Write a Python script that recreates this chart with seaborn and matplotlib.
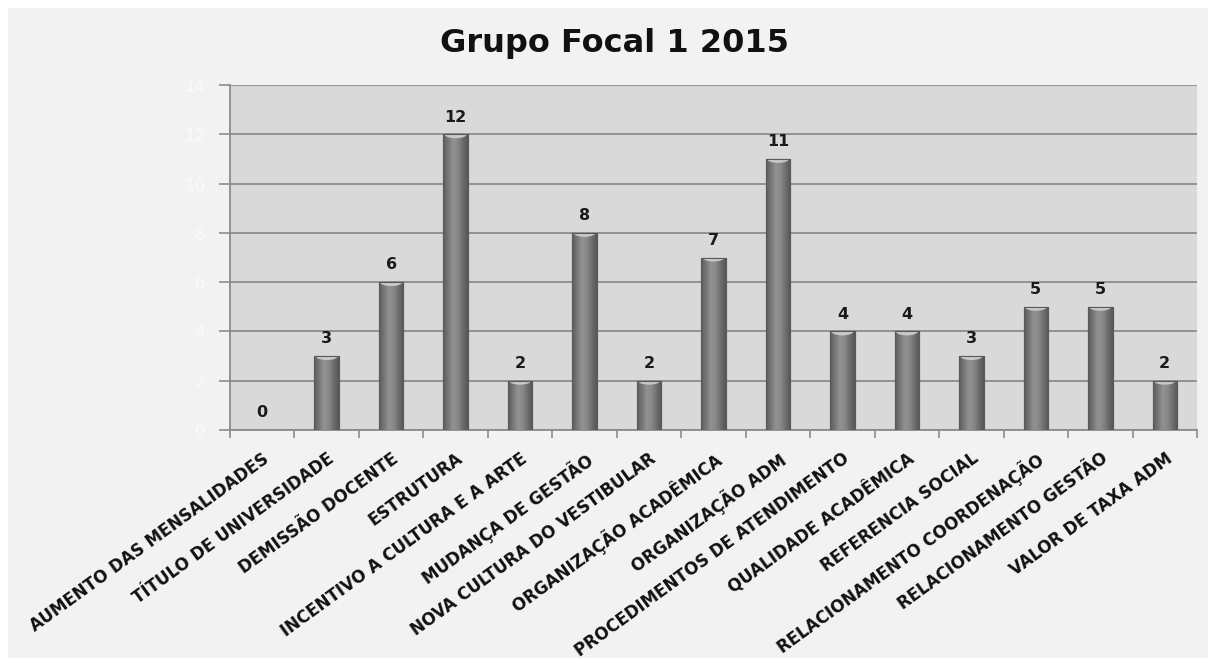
import numpy as np
import pandas as pd
import matplotlib
matplotlib.use("Agg")
import matplotlib.pyplot as plt
from matplotlib.colors import LinearSegmentedColormap
from matplotlib.patches import Rectangle, Ellipse
import seaborn as sns

categorias = [
    "AUMENTO DAS MENSALIDADES",
    "TÍTULO DE UNIVERSIDADE",
    "DEMISSÃO DOCENTE",
    "ESTRUTURA",
    "INCENTIVO A CULTURA E A ARTE",
    "MUDANÇA DE GESTÃO",
    "NOVA CULTURA DO VESTIBULAR",
    "ORGANIZAÇÃO ACADÊMICA",
    "ORGANIZAÇÃO ADM",
    "PROCEDIMENTOS DE ATENDIMENTO",
    "QUALIDADE ACADÊMICA",
    "REFERENCIA SOCIAL",
    "RELACIONAMENTO COORDENAÇÃO",
    "RELACIONAMENTO GESTÃO",
    "VALOR DE TAXA ADM",
]
valores = [0, 3, 6, 12, 2, 8, 2, 7, 11, 4, 4, 3, 5, 5, 2]
y_ticks = [0, 2, 4, 6, 8, 10, 12, 14]
titulo = "Grupo Focal 1 2015"

df = pd.DataFrame({"categoria": categorias, "valor": valores})

sns.set_theme(style="white")
plt.rcParams["font.family"] = ["DejaVu Sans"]

fig = plt.figure(figsize=(12.08, 6.58), dpi=100, facecolor="white")
# light gray chart area with a thin white margin at top and left
fig.patches.append(Rectangle((8 / 1208, 0), 1, 1 - 8 / 658, transform=fig.transFigure,
                             facecolor="#f2f2f2", edgecolor="none", zorder=-10))

ax = fig.add_axes([230 / 1208, 1 - 430 / 658, (1197 - 230) / 1208, (430 - 85) / 658])
ax.set_facecolor("#d9d9d9")

sns.barplot(data=df, x="categoria", y="valor", color="#7f7f7f", width=0.38,
            edgecolor="#5e5e5e", linewidth=0.8, saturation=1, ax=ax, zorder=3)

# cylinder-like shading on every bar
cyl = LinearSegmentedColormap.from_list(
    "cyl", ["#5c5c5c", "#767676", "#939393", "#888888", "#6c6c6c", "#565656"])
grad = np.linspace(0, 1, 256).reshape(1, -1)
for patch in list(ax.patches):
    h = patch.get_height()
    if h <= 0:
        continue
    x0 = patch.get_x()
    w = patch.get_width()
    im = ax.imshow(grad, extent=[x0, x0 + w, 0, h], aspect="auto", cmap=cyl,
                   zorder=3.5, interpolation="bicubic")
    im.set_clip_path(patch)
    cap = Ellipse((x0 + w / 2, h), w * 0.9, 0.32, facecolor="#c9c9c9",
                  edgecolor="none", zorder=3.6)
    ax.add_patch(cap)
    cap.set_clip_path(patch)
    ax.add_patch(Rectangle((x0, 0), w, h, facecolor="none", edgecolor="#5a5a5a",
                           linewidth=0.8, zorder=3.7))

ax.bar_label(ax.containers[0], labels=[str(v) for v in valores], padding=7,
             fontsize=11.5, fontweight="bold", color="#1a1a1a", zorder=5)

ax.set_xlim(-0.5, len(categorias) - 0.5)
ax.set_ylim(0, 14)
ax.set_yticks(y_ticks)
ax.set_yticklabels([str(t) for t in y_ticks], color="#fafafa", fontsize=12)
ax.yaxis.grid(True, color="#8c8c8c", linewidth=1.3, zorder=0)
ax.set_axisbelow(True)

ax.set_xlabel("")
ax.set_ylabel("")
fig.text(615 / 1208, 1 - 52 / 658, titulo, ha="center", va="baseline",
         fontsize=23, fontweight="bold", color="#111111")

ax.set_xticks(range(len(categorias)))
ax.set_xticklabels(categorias, rotation=36, ha="right", rotation_mode="anchor",
                   fontsize=12, fontweight="bold", color="#111111")
ax.set_xticks(np.arange(-0.5, len(categorias), 1.0), minor=True)
ax.tick_params(axis="x", which="major", length=0, pad=14)
ax.tick_params(axis="x", which="minor", length=6, width=1.2, color="#8c8c8c",
               direction="out", bottom=True)
ax.tick_params(axis="y", length=8, width=1.2, color="#8c8c8c", direction="out",
               left=True, pad=10)

for side in ["top", "right"]:
    ax.spines[side].set_visible(False)
for side in ["left", "bottom"]:
    ax.spines[side].set_color("#8c8c8c")
    ax.spines[side].set_linewidth(1.3)

fig.savefig("out.png", dpi=100, facecolor=fig.get_facecolor())
